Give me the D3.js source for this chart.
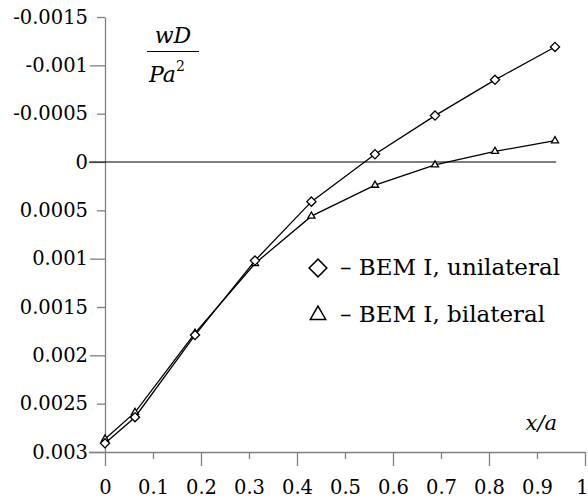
<!DOCTYPE html>
<html>
<head>
<meta charset="utf-8">
<script src="https://cdn.jsdelivr.net/npm/d3@7"></script>
<style>
  body { margin: 0; background: #fff; }
</style>
</head>
<body>
<div id="chart"></div>
<script>
// x positions (x/a) of the computed points
var xValues = [0, 0.0625, 0.1875, 0.3125, 0.43, 0.5625, 0.6875, 0.8125, 0.9375];
// deflection wD/Pa^2, unilateral contact
var unilateral = [0.00291, 0.00264, 0.00179, 0.00102, 0.00041, -0.00008, -0.00048, -0.00085, -0.00119];
// deflection wD/Pa^2, bilateral contact
var bilateral = [0.002865, 0.00259, 0.00177, 0.00105, 0.00056, 0.00024, 0.00003, -0.00011, -0.00022];

var yTicks = [-0.0015, -0.001, -0.0005, 0, 0.0005, 0.001, 0.0015, 0.002, 0.0025, 0.003];
var yTickLabels = ["-0.0015", "-0.001", "-0.0005", "0", "0.0005", "0.001", "0.0015", "0.002", "0.0025", "0.003"];
var xTicks = [0, 0.1, 0.2, 0.3, 0.4, 0.5, 0.6, 0.7, 0.8, 0.9, 1];
var xTickLabels = ["0", "0.1", "0.2", "0.3", "0.4", "0.5", "0.6", "0.7", "0.8", "0.9", "1"];
var legendLabels = ["\u2013 BEM I, unilateral", "\u2013 BEM I, bilateral"];

var w = 588;
var h = 498;
//only serif face available in the sandbox
var serif = "DejaVu Serif";

var svg = d3.select("#chart").append("svg").attr("width", w).attr("height", h);

//scales, y is reversed (negative values at the top)
var xScale = d3.scaleLinear().domain([0, 1]).range([105, 585]);
var yScale = d3.scaleLinear().domain([-0.0015, 0.003]).range([17, 452]);

var axisColor = "#808080";

//y axis, long ticks on whole thousandths
var yAxis = d3.axisLeft(yScale)
  .tickValues(yTicks)
  .tickSizeInner(8)
  .tickSizeOuter(0)
  .tickFormat(function (d, i) { return yTickLabels[i]; });

var gy = svg.append("g").attr("transform", "translate(" + xScale(0) + ",0)").call(yAxis);
gy.attr("font-family", serif);
gy.select(".domain").attr("stroke", axisColor).attr("stroke-width", 1.3);
gy.selectAll(".tick line")
  .attr("stroke", axisColor)
  .attr("stroke-width", 1.3)
  .attr("x2", function (d) { return Math.abs(Math.round(d * 2000)) % 2 === 0 ? -15 : -8; });
gy.selectAll(".tick text")
  .attr("x", -17)
  .attr("font-size", 19.5);

//x axis, long ticks on even tenths
var xAxis = d3.axisBottom(xScale)
  .tickValues(xTicks)
  .tickSizeInner(7)
  .tickSizeOuter(0)
  .tickFormat(function (d, i) { return xTickLabels[i]; });

var gx = svg.append("g").attr("transform", "translate(0," + yScale(0.003) + ")").call(xAxis);
gx.attr("font-family", serif);
gx.select(".domain")
  .attr("stroke", axisColor)
  .attr("stroke-width", 1.3)
  .attr("d", "M" + (xScale(0) - 16) + ",0.5H" + xScale(1));
gx.selectAll(".tick line")
  .attr("stroke", axisColor)
  .attr("stroke-width", 1.3)
  .attr("y2", function (d) { return Math.round(d * 10) % 2 === 0 ? 14 : 7; });
gx.selectAll(".tick text")
  .attr("y", 28)
  .attr("x", function (d) { return d === 1 ? -3 : 0; })
  .attr("font-size", 19.5);

//zero line
svg.append("line")
  .attr("x1", xScale(0) - 16)
  .attr("x2", xScale(0.94))
  .attr("y1", yScale(0))
  .attr("y2", yScale(0))
  .attr("stroke", "#000")
  .attr("stroke-width", 1.1);

var line = d3.line()
  .x(function (d) { return xScale(d[0]); })
  .y(function (d) { return yScale(d[1]); });

var uniData = xValues.map(function (x, i) { return [x, unilateral[i]]; });
var biData = xValues.map(function (x, i) { return [x, bilateral[i]]; });

var diamond = d3.symbol().type(d3.symbolDiamond2).size(54);
var triangle = d3.symbol().type(d3.symbolTriangle2).size(36);

[[biData, triangle], [uniData, diamond]].forEach(function (s) {
  svg.append("path")
    .datum(s[0])
    .attr("d", line)
    .attr("fill", "none")
    .attr("stroke", "#000")
    .attr("stroke-width", 1.3);

  svg.selectAll(null)
    .data(s[0])
    .enter()
    .append("path")
    .attr("d", s[1])
    .attr("transform", function (d) { return "translate(" + xScale(d[0]) + "," + yScale(d[1]) + ")"; })
    .attr("fill", "#fff")
    .attr("stroke", "#000")
    .attr("stroke-width", 1.3);
});

//legend
var legend = svg.append("g").attr("transform", "translate(318,268)");
var legendSymbols = [d3.symbol().type(d3.symbolDiamond2).size(200), d3.symbol().type(d3.symbolTriangle2).size(170)];

legend.selectAll("path")
  .data(legendLabels)
  .enter()
  .append("path")
  .attr("d", function (d, i) { return legendSymbols[i](); })
  .attr("transform", function (d, i) { return "translate(0," + (i * 46 + (i ? 1 : 0)) + ")"; })
  .attr("fill", "none")
  .attr("stroke", "#000")
  .attr("stroke-width", 1.5);

legend.selectAll("text")
  .data(legendLabels)
  .enter()
  .append("text")
  .attr("x", 22)
  .attr("y", function (d, i) { return 7 + i * 47; })
  .attr("font-family", serif)
  .attr("font-size", 23)
  .text(function (d) { return d; });

//y axis title as a fraction
svg.append("text")
  .attr("x", 173)
  .attr("y", 43)
  .attr("text-anchor", "middle")
  .attr("font-family", serif)
  .attr("font-size", 22)
  .attr("font-style", "italic")
  .text("wD");

svg.append("line")
  .attr("x1", 147)
  .attr("x2", 199)
  .attr("y1", 51.5)
  .attr("y2", 51.5)
  .attr("stroke", "#000")
  .attr("stroke-width", 1.2);

var den = svg.append("text")
  .attr("x", 149)
  .attr("y", 82)
  .attr("font-family", serif)
  .attr("font-size", 22)
  .attr("font-style", "italic");
den.append("tspan").text("Pa");
den.append("tspan")
  .attr("dy", -11)
  .attr("font-size", 14)
  .attr("font-style", "normal")
  .text("2");

//x axis title
svg.append("text")
  .attr("x", 557)
  .attr("y", 430)
  .attr("text-anchor", "end")
  .attr("font-family", serif)
  .attr("font-size", 21)
  .attr("font-style", "italic")
  .text("x/a");
</script>
</body>
</html>
